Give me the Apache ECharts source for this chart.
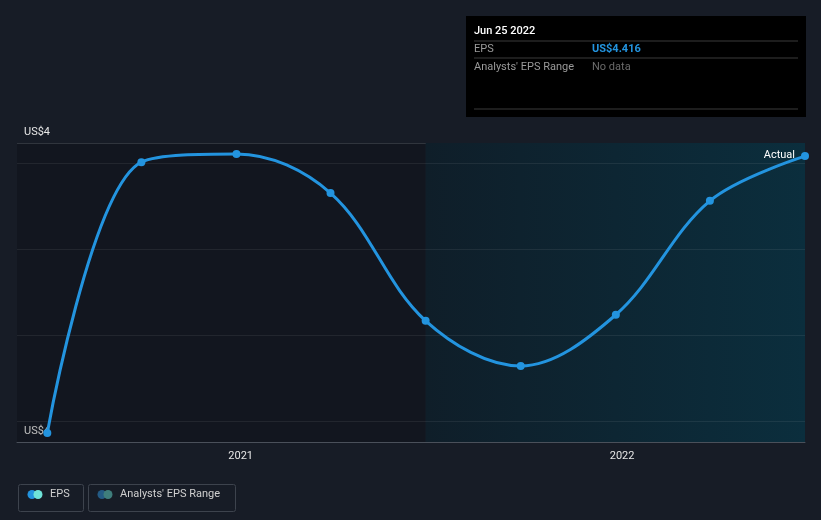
<!DOCTYPE html>
<html>
<head>
<meta charset="utf-8">
<script src="https://cdn.jsdelivr.net/npm/echarts@6/dist/echarts.min.js"></script>
<style>
html,body{margin:0;padding:0;background:#171c26;}
#c{width:821px;height:520px;}
</style>
</head>
<body>
<div id="c"></div>
<script>
// ---- data ----
var dates = ['2020-06-30','2020-09-28','2020-12-28','2021-03-28','2021-06-27','2021-09-26','2021-12-26','2022-03-26','2022-06-25'];
var epsValues = [3.772, 4.402, 4.421, 4.330, 4.033, 3.928, 4.047, 4.312, 4.416];
var gridValues = [3.8, 4.0, 4.2, 4.4];
var yMin = 3.751, yMax = 4.4465;
var xMin = '2020-06-01', xMax = '2022-06-25';
var highlightStart = '2021-06-27';
var tooltipDate = 'Jun 25 2022';
var yLabel = 'US$4';

var chart = echarts.init(document.getElementById('c'), null, {renderer: 'canvas'});
var font = 'Roboto, "Noto Sans", sans-serif';
var lastVal = epsValues[epsValues.length - 1];

var seriesData = dates.map(function (d, i) {
  var p = {value: [d, epsValues[i]]};
  if (i === dates.length - 1) {
    p.label = {show: true, position: 'left', distance: 6, formatter: 'Actual', color: '#ffffff', fontSize: 11, fontFamily: font, offset: [0, -1]};
  }
  return p;
});

chart.setOption({
  backgroundColor: '#171c26',
  animation: false,
  grid: {left: 17, right: 16, top: 143, bottom: 78},
  xAxis: {
    type: 'time',
    min: xMin, max: xMax,
    axisLine: {show: true, lineStyle: {color: '#4a505a', width: 1}},
    axisTick: {show: false},
    splitLine: {show: false},
    axisLabel: {
      color: '#e6e6e6', fontSize: 11, fontFamily: font, margin: 9,
      formatter: function (v) {
        var d = new Date(v);
        return (d.getMonth() === 0 && d.getDate() === 1) ? String(d.getFullYear()) : '';
      }
    }
  },
  yAxis: {
    type: 'value',
    min: yMin, max: yMax,
    interval: yMax - yMin,
    axisLine: {show: false},
    axisTick: {show: false},
    splitLine: {show: true, lineStyle: {color: '#3b414b', width: 1}},
    axisLabel: {
      inside: true, margin: 7, verticalAlign: 'bottom',
      padding: [0, 0, 5, 0],
      color: '#e6e6e6', fontSize: 11, fontFamily: font,
      formatter: function () { return yLabel; }
    }
  },
  series: [{
    type: 'line',
    data: seriesData,
    smooth: 0.35,
    symbol: 'circle',
    symbolSize: 8,
    lineStyle: {color: '#2394df', width: 3},
    itemStyle: {color: '#2394df'},
    z: 5,
    markLine: {
      silent: true,
      symbol: 'none',
      label: {show: false},
      lineStyle: {color: 'rgba(255,255,255,0.07)', width: 1, type: 'solid'},
      data: gridValues.map(function (g) { return {yAxis: g}; })
    },
    markArea: {
      silent: true,
      data: [
        [{xAxis: xMin, itemStyle: {color: 'rgba(0,0,0,0.18)'}}, {xAxis: highlightStart}],
        [{xAxis: highlightStart, itemStyle: {
          color: new echarts.graphic.LinearGradient(0, 0, 1, 0, [
            {offset: 0, color: '#0f1e29'},
            {offset: 1, color: '#0b2e3d'}
          ])
        }}, {xAxis: xMax}]
      ]
    }
  }],
  graphic: [
    {type: 'rect', left: 466, top: 16, shape: {width: 340, height: 101}, style: {fill: '#000000'}, z: 20},
    {type: 'text', left: 474, top: 26, style: {text: tooltipDate, fill: '#ffffff', font: '500 11px ' + font}, z: 21},
    {type: 'line', shape: {x1: 474, y1: 41, x2: 798, y2: 41}, style: {stroke: '#3a3a3a', lineWidth: 1}, z: 21},
    {type: 'text', left: 474, top: 44, style: {text: 'EPS', fill: '#9a9a9a', font: '11px ' + font}, z: 21},
    {type: 'text', left: 592, top: 44, style: {text: 'US$' + lastVal.toFixed(3), fill: '#2394df', font: 'bold 11px ' + font}, z: 21},
    {type: 'line', shape: {x1: 474, y1: 58, x2: 798, y2: 58}, style: {stroke: '#3a3a3a', lineWidth: 1}, z: 21},
    {type: 'text', left: 474, top: 62, style: {text: "Analysts' EPS Range", fill: '#9a9a9a', font: '11px ' + font}, z: 21},
    {type: 'text', left: 592, top: 62, style: {text: 'No data', fill: '#6a6a6a', font: '11px ' + font}, z: 21},
    {type: 'line', shape: {x1: 474, y1: 109, x2: 798, y2: 109}, style: {stroke: '#3a3a3a', lineWidth: 1}, z: 21},

    {type: 'rect', left: 16, top: 482, shape: {width: 65, height: 27, r: 2}, style: {fill: 'none', stroke: '#3d434d', lineWidth: 1}, z: 20},
    {type: 'circle', shape: {cx: 32, cy: 494.5, r: 4.5}, style: {fill: '#2394df'}, z: 21},
    {type: 'circle', shape: {cx: 38, cy: 494.5, r: 4.5}, style: {fill: '#6fe3d8'}, z: 22},
    {type: 'text', left: 50, top: 489, style: {text: 'EPS', fill: '#d0d0d0', font: '11px ' + font}, z: 21},

    {type: 'rect', left: 86, top: 482, shape: {width: 147, height: 27, r: 2}, style: {fill: 'none', stroke: '#3d434d', lineWidth: 1}, z: 20},
    {type: 'circle', shape: {cx: 102, cy: 494.5, r: 4.5}, style: {fill: '#245b85'}, z: 21},
    {type: 'circle', shape: {cx: 108, cy: 494.5, r: 4.5}, style: {fill: '#3f7e7c'}, z: 22},
    {type: 'text', left: 120, top: 489, style: {text: "Analysts' EPS Range", fill: '#d0d0d0', font: '11px ' + font}, z: 21}
  ]
});
</script>
</body>
</html>
